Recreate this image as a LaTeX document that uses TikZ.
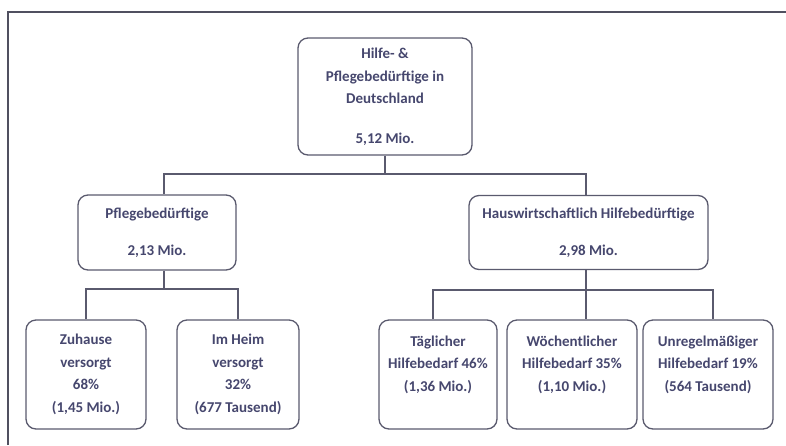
\documentclass[tikz,border=0pt]{standalone}
\usepackage{fontspec}
\setmainfont{Carlito}
\usepackage{xcolor}
\usepackage{tikz}
\definecolor{ink}{HTML}{46476E}
\definecolor{edge}{HTML}{5A5A6E}
\definecolor{frame}{HTML}{505060}
\tikzset{
  box/.style={draw=edge, line width=1.3pt, rounded corners=10pt, fill=white,
    align=center, text=ink, inner sep=2pt,
    font=\fontsize{15}{22.5}\selectfont\bfseries},
  conn/.style={draw=edge, line width=1.6pt},
  rim/.style={draw=frame, line width=1.4pt},
}

\begin{document}
\begin{tikzpicture}[x=1pt, y=-1pt]
  \useasboundingbox (0,0) rectangle (786,445);
  \draw[rim] (8,445) -- (8,12) -- (786,12);
  % level 0
  \node[box, minimum width=174pt, minimum height=117pt] (top) at (385,96.5)
    {Hilfe- \&\\Pflegebedürftige in\\Deutschland\\[17pt]5,12 Mio.};
  % level 1
  \node[box, minimum width=158pt, minimum height=75pt] (pflege) at (157,232.5)
    {Pflegebedürftige\\[14pt]2,13 Mio.};
  \node[box, minimum width=239pt, minimum height=74pt] (haus) at (588.5,232.5)
    {Hauswirtschaftlich Hilfebedürftige\\[14pt]2,98 Mio.};
  % level 2
  \node[box, minimum width=120pt, minimum height=109pt] (zuhause) at (86,374.5)
    {Zuhause\\versorgt\\68\%\\(1,45 Mio.)};
  \node[box, minimum width=122pt, minimum height=109pt] (heim) at (238,374.5)
    {Im Heim\\versorgt\\32\%\\(677 Tausend)};
  \node[box, minimum width=118pt, minimum height=109pt] (taegl) at (438,374.5)
    {Täglicher\\Hilfebedarf 46\%\\(1,36 Mio.)\\\mbox{}};
  \node[box, minimum width=130pt, minimum height=109pt] (woech) at (572,374.5)
    {Wöchentlicher\\Hilfebedarf 35\%\\(1,10 Mio.)\\\mbox{}};
  \node[box, minimum width=130pt, minimum height=109pt] (unreg) at (708,374.5)
    {Unregelmäßiger\\Hilfebedarf 19\%\\(564 Tausend)\\\mbox{}};
  % junctions
  \coordinate (j0) at (385,174);
  \coordinate (jL) at (164,289);
  \coordinate (jR) at (586,290);
  \draw[conn] (top.south) -- (j0);
  \draw[conn] (pflege.north -| jL) |- (j0) -| (haus.north -| jR);
  \draw[conn] (pflege.south -| jL) -- (jL);
  \draw[conn] (zuhause.north) |- (jL) -| (heim.north);
  \draw[conn] (haus.south -| jR) -- (jR);
  \draw[conn] ([xshift=-5pt]taegl.north) |- (jR) -| ([xshift=5pt]unreg.north);
  \draw[conn] (jR) -- (jR |- woech.north);
\end{tikzpicture}
\end{document}
